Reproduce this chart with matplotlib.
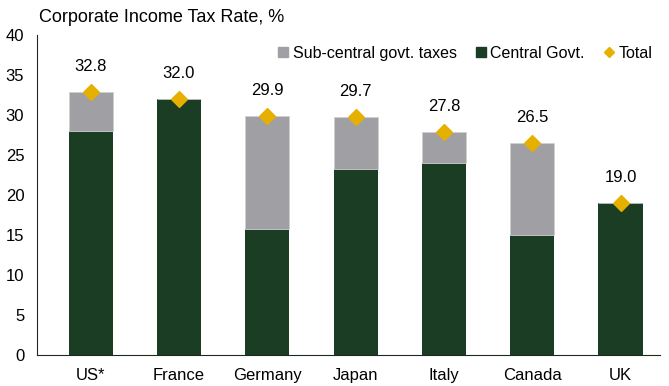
import matplotlib
matplotlib.use('Agg')
import matplotlib.pyplot as plt
from matplotlib.lines import Line2D
import numpy as np

plt.rcParams['font.family'] = ['Liberation Sans', 'DejaVu Sans']

countries = ['US*', 'France', 'Germany', 'Japan', 'Italy', 'Canada', 'UK']
central = [28.0, 32.0, 15.8, 23.2, 24.0, 15.0, 19.0]
total = [32.8, 32.0, 29.9, 29.7, 27.8, 26.5, 19.0]
sub_central = [t - c for t, c in zip(total, central)]

green = '#1a3d23'
grey = '#a0a0a4'
gold = '#e6b000'

fig = plt.figure(figsize=(6.69, 3.86), dpi=100)
ax = fig.add_axes([0.055, 0.08, 0.932, 0.83])

x = np.arange(len(countries))
ax.bar(x, central, width=0.5, color=green, zorder=2)
ax.bar(x, sub_central, width=0.5, bottom=central, color=grey,
       edgecolor='#d0d0d0', linewidth=0.6, zorder=2)
ax.scatter(x, total, marker='D', s=65, color=gold, zorder=3)

for xi, t in zip(x, total):
    ax.annotate(f'{t:.1f}', (xi, t), xytext=(0, 13), textcoords='offset points',
                ha='center', va='bottom', fontsize=12)

ax.set_xlim(-0.61, 6.45)
ax.set_ylim(0, 40)
ax.set_yticks(range(0, 41, 5))
ax.set_xticks(x)
ax.set_xticklabels(countries)
ax.tick_params(axis='both', length=0, labelsize=12)
ax.tick_params(axis='x', pad=9)
ax.tick_params(axis='y', pad=9)
for s in ['top', 'right']:
    ax.spines[s].set_visible(False)
ax.spines['left'].set_color('#1d2a1d')
ax.spines['bottom'].set_color('#1d2a1d')

h = [Line2D([], [], marker='s', color=grey, linestyle='none', markersize=7),
     Line2D([], [], marker='s', color=green, linestyle='none', markersize=7),
     Line2D([], [], marker='D', color=gold, linestyle='none', markersize=5)]
ax.legend(h, ['Sub-central govt. taxes', 'Central Govt.', 'Total'],
          loc='upper right', bbox_to_anchor=(1.01, 1.01), ncol=3, frameon=False,
          fontsize=11.5, handletextpad=0.1, columnspacing=1.0, handlelength=1.0)

fig.text(0.058, 0.955, 'Corporate Income Tax Rate, %', fontsize=13, va='center')

fig.savefig('out.png', dpi=100)
